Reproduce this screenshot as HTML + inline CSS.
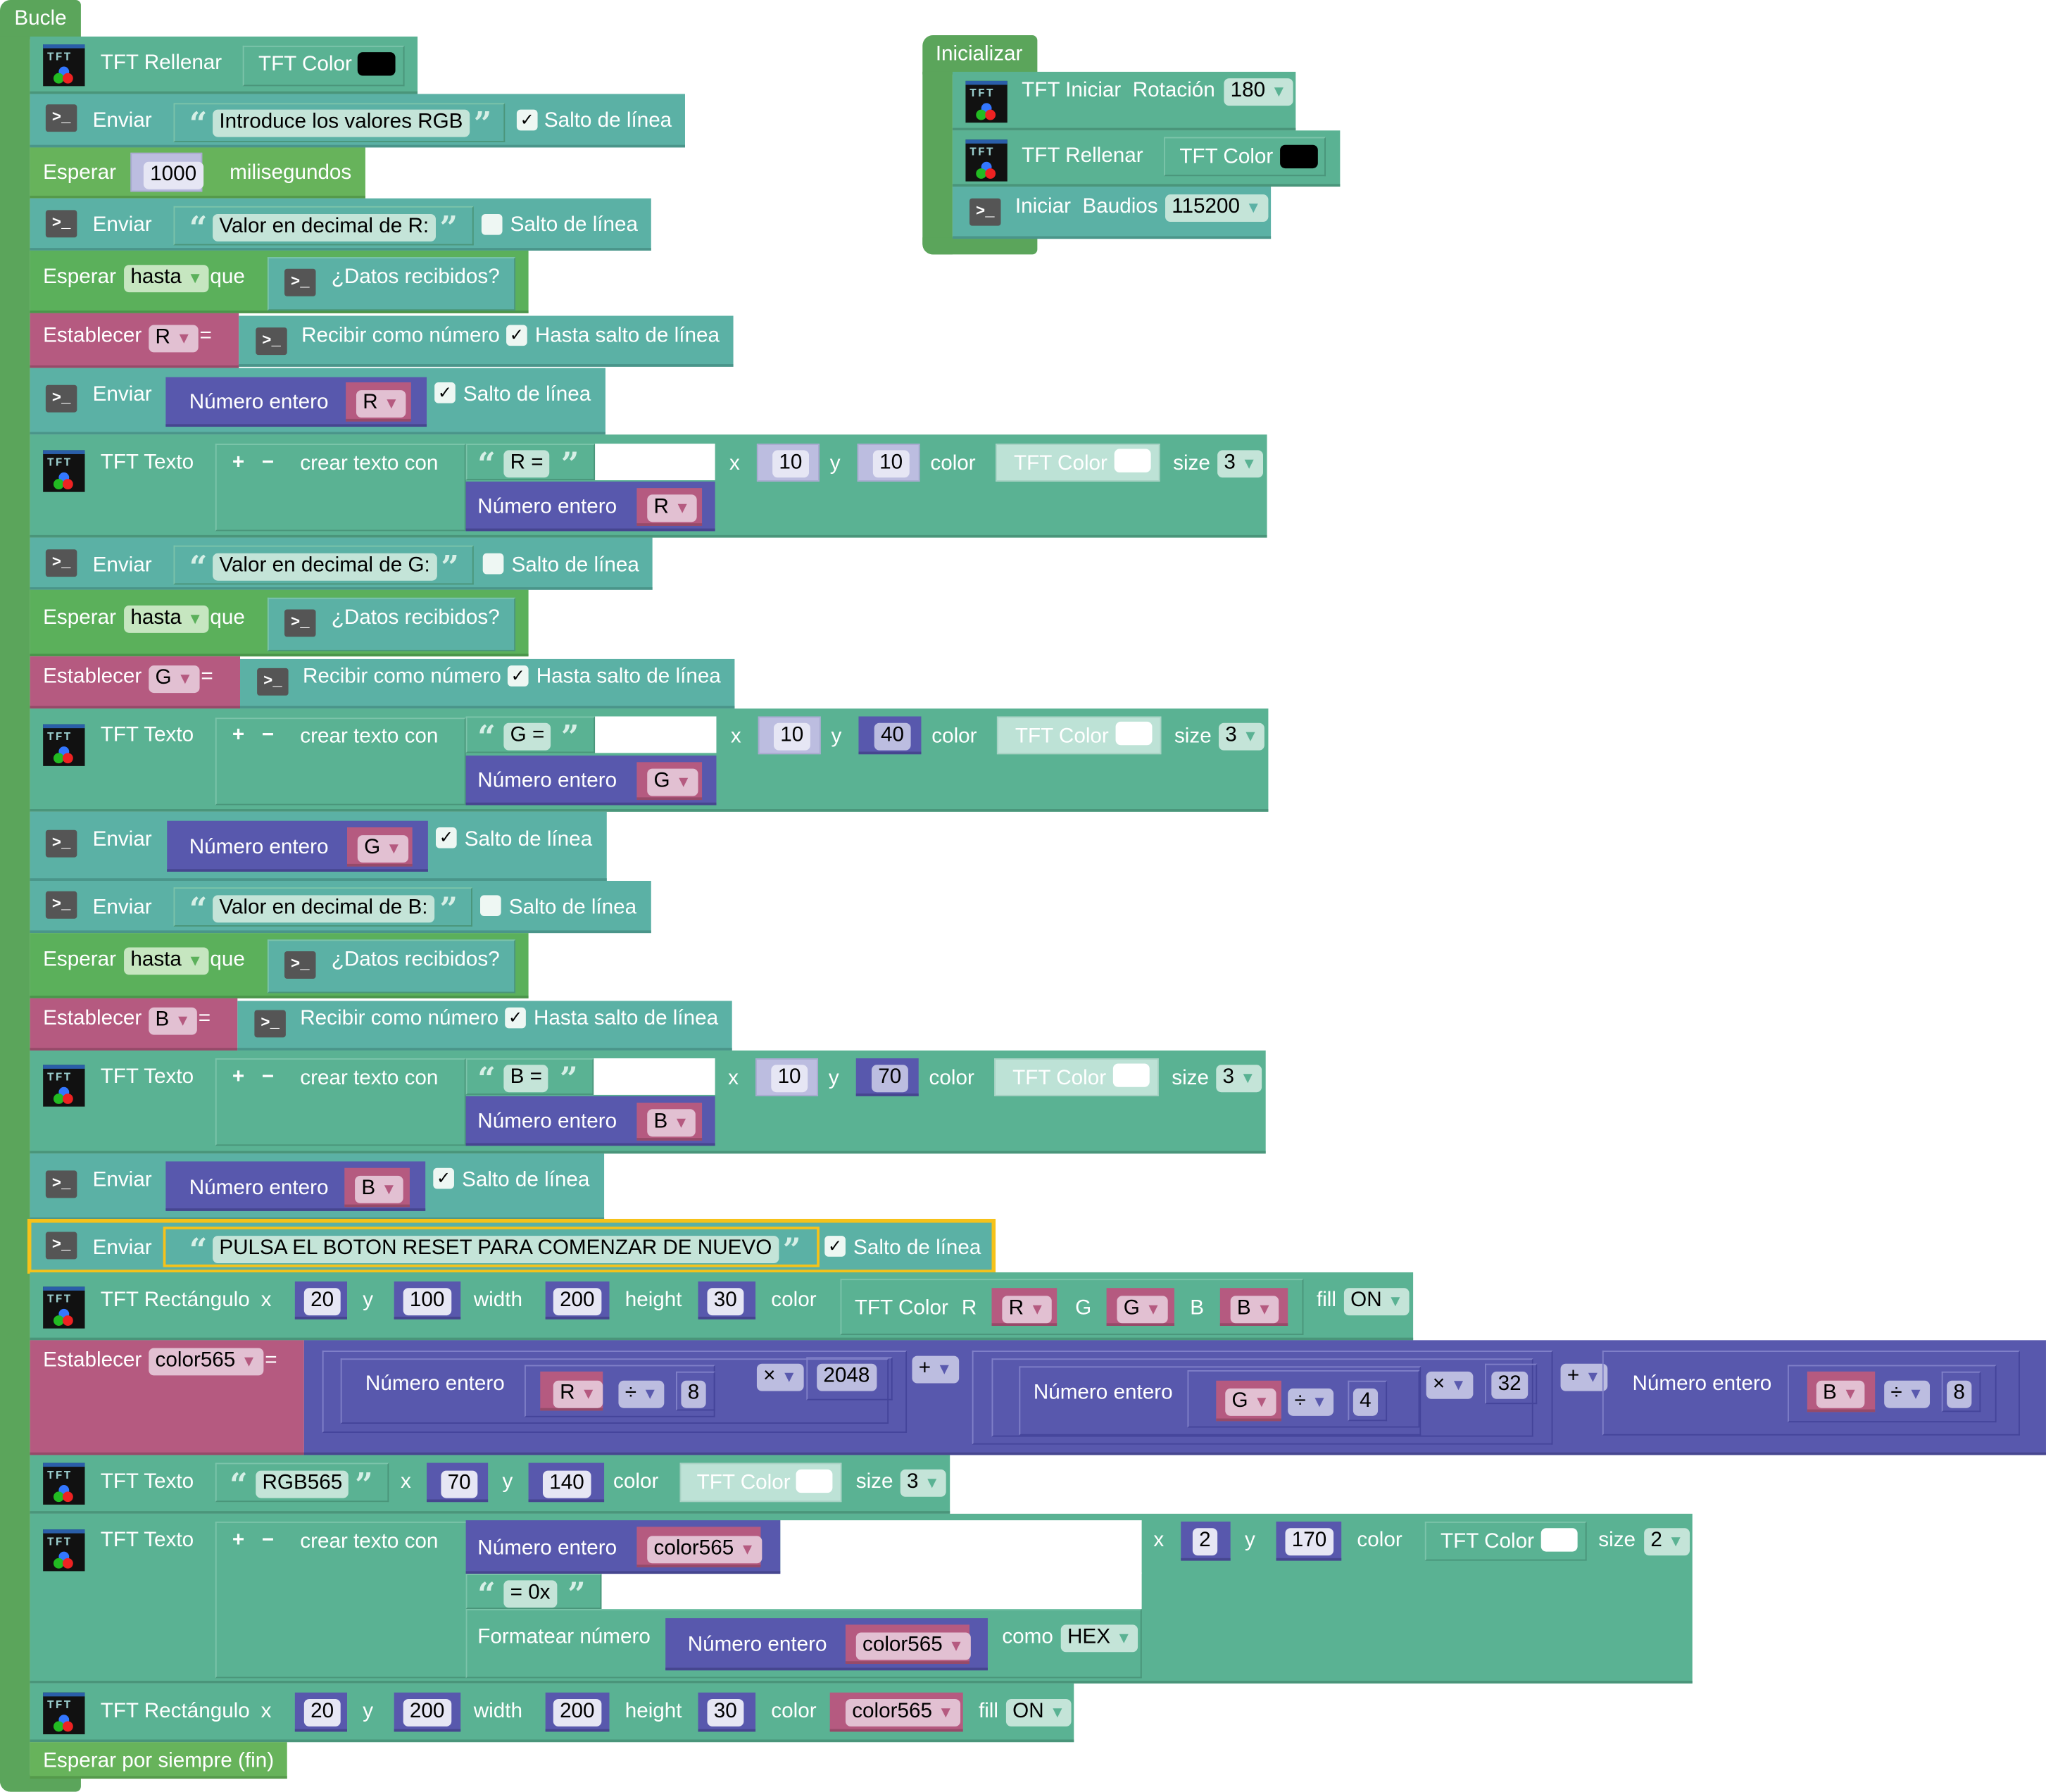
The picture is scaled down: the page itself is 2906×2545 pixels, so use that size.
<!DOCTYPE html>
<html><head><meta charset="utf-8"><style>
body{margin:0;background:#fff;width:2906px;height:2544px;overflow:hidden}
#w{position:absolute;left:0;top:0;width:1568px;height:1373px;transform:scale(1.8533);transform-origin:0 0;font-family:"Liberation Sans",sans-serif}
#w div{position:absolute;box-sizing:border-box}
.t{color:#fff;font-size:16px;line-height:20px;white-space:nowrap;margin-top:1px}
.f{color:#000;font-size:16px;line-height:20px;height:21px;padding:0 5px;border-radius:4px;white-space:nowrap;background:#c4e4d8;margin-top:1px}
.fg{background:#c6e6c0}.fp{background:#e2c0d2}.fl{background:#e6e6f4}
.f b{font-weight:normal;font-size:12px;color:#5a5aae}
.fp b{color:#b55a80}.fg b{color:#5bb05b}.fc b{color:#5ab293}
.T{background:#5ab293;border-bottom:2px solid #4a957a}
.S{background:#5bb1a5;border-bottom:2px solid #4a958a}
.G1{background:#67b35b;border-bottom:2px solid #559a4b}
.G2{background:#5bb05b;border-bottom:2px solid #4b954b}
.L{background:#5ba55b}
.P{background:#b55a80;border-bottom:2px solid #964a69}
.U{background:#5858ad;border-bottom:2px solid #46468f}
.LV{background:#bcbde0;border:1px solid #a9aad0}
.bo{border:1px solid #4a957a;border-top-color:#7cc4aa;border-left-color:#7cc4aa}
.bu{border:1px solid #44449a;border-top-color:#8080c8;border-left-color:#8080c8}
.lt{background:#bde2d6;border:1px solid #a8d2c4}
.q{color:#d6efe6;font-size:24px;font-weight:bold;line-height:24px;font-family:"DejaVu Serif",serif}
.cb{width:16px;height:16px;background:#eef7f3;border-radius:3px;color:#000;font-size:13px;line-height:16px;text-align:center}
.si{width:24px;height:21px;background:#555;border-radius:2px;color:#fff;font:bold 12px/21px "Liberation Mono",monospace;text-align:center}
.ti{width:32px;height:32px;background:#111;border-top:3px solid #2a5ea8}
.ti span{position:absolute;left:3px;top:2px;color:#9cc;font:bold 9px/10px "Liberation Mono",monospace;letter-spacing:1px}
.ti i{position:absolute;width:8px;height:8px;border-radius:50%}
.sw{width:29px;height:18px;border-radius:4px}
.wh{background:#fff}
</style></head><body><div id="w">

<!-- Loop -->
<div class="L" style="left:0;top:0;width:62px;height:30px;border-radius:8px 4px 0 0"></div>
<div class="t" style="left:11px;top:4px">Bucle</div>
<div class="L" style="left:0;top:28px;width:23px;height:1345px;border-radius:0 0 0 8px"></div>
<div class="L" style="left:0;top:1360px;width:62px;height:13px;border-radius:0 0 4px 8px"></div>

<!-- Row1 -->
<div class="T" style="left:23px;top:28px;width:297px;height:44px"></div>
<div class="ti" style="left:33px;top:34px"><span>TFT</span><i style="left:12px;top:14px;background:#37f"></i><i style="left:8px;top:19px;background:#2b2"></i><i style="left:15px;top:19px;background:#e22"></i></div>
<div class="t" style="left:77px;top:38px">TFT Rellenar</div>
<div class="T bo" style="left:186px;top:35px;width:124px;height:31px"></div>
<div class="t" style="left:198px;top:39px">TFT Color</div>
<div class="sw" style="left:274px;top:40px;background:#000"></div>

<!-- Row2 -->
<div class="S" style="left:23px;top:72px;width:502px;height:41px"></div>
<div class="si" style="left:35px;top:80px">&gt;_</div>
<div class="t" style="left:71px;top:82px">Enviar</div>
<div class="S bo" style="left:133px;top:79px;width:254px;height:30px"></div>
<div class="q" style="left:145px;top:83px">“</div>
<div class="f" style="left:163px;top:83px">Introduce los valores RGB</div>
<div class="q" style="left:363px;top:83px">”</div>
<div class="cb" style="left:396px;top:84px">✓</div>
<div class="t" style="left:417px;top:82px">Salto de línea</div>

<!-- Row3 -->
<div class="G1" style="left:23px;top:113px;width:257px;height:39px"></div>
<div class="t" style="left:33px;top:122px">Esperar</div>
<div class="LV" style="left:100px;top:117px;width:55px;height:30px"></div>
<div class="f fl" style="left:110px;top:123px">1000</div>
<div class="t" style="left:176px;top:122px">milisegundos</div>

<!-- Row4 -->
<div class="S" style="left:23px;top:152px;width:476px;height:40px"></div>
<div class="si" style="left:35px;top:161px">&gt;_</div>
<div class="t" style="left:71px;top:162px">Enviar</div>
<div class="S bo" style="left:133px;top:158px;width:230px;height:30px"></div>
<div class="q" style="left:145px;top:163px">“</div>
<div class="f" style="left:163px;top:163px">Valor en decimal de R:</div>
<div class="q" style="left:337px;top:163px">”</div>
<div class="cb" style="left:369px;top:164px"></div>
<div class="t" style="left:391px;top:162px">Salto de línea</div>

<!-- Row5 -->
<div class="G2" style="left:23px;top:192px;width:382px;height:48px"></div>
<div class="t" style="left:33px;top:202px">Esperar</div>
<div class="f fg" style="left:95px;top:202px">hasta <b>▼</b></div>
<div class="t" style="left:161px;top:202px">que</div>
<div class="S bo" style="left:205px;top:197px;width:190px;height:41px"></div>
<div class="si" style="left:218px;top:206px">&gt;_</div>
<div class="t" style="left:254px;top:202px">¿Datos recibidos?</div>

<!-- Row6 -->
<div class="P" style="left:23px;top:240px;width:160px;height:42px"></div>
<div class="t" style="left:33px;top:247px">Establecer</div>
<div class="f fp" style="left:114px;top:248px">R <b>▼</b></div>
<div class="t" style="left:153px;top:247px">=</div>
<div class="S" style="left:183px;top:242px;width:379px;height:39px"></div>
<div class="si" style="left:196px;top:251px">&gt;_</div>
<div class="t" style="left:231px;top:247px">Recibir como número</div>
<div class="cb" style="left:388px;top:249px">✓</div>
<div class="t" style="left:410px;top:247px">Hasta salto de línea</div>

<!-- Row7 -->
<div class="S" style="left:23px;top:282px;width:441px;height:51px"></div>
<div class="si" style="left:35px;top:295px">&gt;_</div>
<div class="t" style="left:71px;top:292px">Enviar</div>
<div class="U" style="left:127px;top:289px;width:200px;height:38px"></div>
<div class="t" style="left:145px;top:298px">Número entero</div>
<div class="P" style="left:265px;top:293px;width:50px;height:30px"></div>
<div class="f fp" style="left:273px;top:298px">R <b>▼</b></div>
<div class="cb" style="left:333px;top:293px">✓</div>
<div class="t" style="left:355px;top:292px">Salto de línea</div>

<!-- Row8 TFT Texto R -->
<div class="T" style="left:23px;top:333px;width:948px;height:79px"></div>
<div class="ti" style="left:33px;top:345px"><span>TFT</span><i style="left:12px;top:14px;background:#37f"></i><i style="left:8px;top:19px;background:#2b2"></i><i style="left:15px;top:19px;background:#e22"></i></div>
<div class="t" style="left:77px;top:344px">TFT Texto</div>
<div class="T bo" style="left:165px;top:340px;width:192px;height:67px"></div>
<div class="t" style="left:178px;top:344px;font-weight:bold">+ &nbsp; −</div>
<div class="t" style="left:230px;top:345px">crear texto con</div>
<div class="T bo" style="left:357px;top:340px;width:99px;height:28px"></div>
<div class="q" style="left:366px;top:344px">“</div>
<div class="f" style="left:386px;top:344px">R =</div>
<div class="q" style="left:430px;top:344px">”</div>
<div class="wh" style="left:456px;top:340px;width:92px;height:28px"></div>
<div class="U" style="left:357px;top:369px;width:191px;height:38px"></div>
<div class="t" style="left:366px;top:378px">Número entero</div>
<div class="P" style="left:488px;top:374px;width:50px;height:29px"></div>
<div class="f fp" style="left:496px;top:378px">R <b>▼</b></div>
<div class="t" style="left:559px;top:345px">x</div>
<div class="LV" style="left:580px;top:340px;width:48px;height:29px"></div>
<div class="f fl" style="left:592px;top:344px">10</div>
<div class="t" style="left:636px;top:345px">y</div>
<div class="LV" style="left:657px;top:340px;width:48px;height:29px"></div>
<div class="f fl" style="left:669px;top:344px">10</div>
<div class="t" style="left:713px;top:345px">color</div>
<div class="lt" style="left:763px;top:340px;width:126px;height:29px"></div>
<div class="t" style="left:777px;top:345px">TFT Color</div>
<div class="sw wh" style="left:854px;top:344px;width:28px"></div>
<div class="t" style="left:899px;top:345px">size</div>
<div class="f fc" style="left:933px;top:344px">3 <b>▼</b></div>

<!-- Row9 -->
<div class="S" style="left:23px;top:412px;width:477px;height:40px"></div>
<div class="si" style="left:35px;top:421px">&gt;_</div>
<div class="t" style="left:71px;top:423px">Enviar</div>
<div class="S bo" style="left:133px;top:418px;width:230px;height:30px"></div>
<div class="q" style="left:145px;top:423px">“</div>
<div class="f" style="left:163px;top:423px">Valor en decimal de G:</div>
<div class="q" style="left:338px;top:423px">”</div>
<div class="cb" style="left:370px;top:424px"></div>
<div class="t" style="left:392px;top:423px">Salto de línea</div>

<!-- Row10 -->
<div class="G2" style="left:23px;top:452px;width:382px;height:51px"></div>
<div class="t" style="left:33px;top:463px">Esperar</div>
<div class="f fg" style="left:95px;top:463px">hasta <b>▼</b></div>
<div class="t" style="left:161px;top:463px">que</div>
<div class="S bo" style="left:205px;top:458px;width:190px;height:41px"></div>
<div class="si" style="left:218px;top:467px">&gt;_</div>
<div class="t" style="left:254px;top:463px">¿Datos recibidos?</div>

<!-- Row11 -->
<div class="P" style="left:23px;top:503px;width:161px;height:40px"></div>
<div class="t" style="left:33px;top:508px">Establecer</div>
<div class="f fp" style="left:114px;top:509px">G <b>▼</b></div>
<div class="t" style="left:154px;top:508px">=</div>
<div class="S" style="left:184px;top:505px;width:379px;height:38px"></div>
<div class="si" style="left:197px;top:512px">&gt;_</div>
<div class="t" style="left:232px;top:508px">Recibir como número</div>
<div class="cb" style="left:389px;top:510px">✓</div>
<div class="t" style="left:411px;top:508px">Hasta salto de línea</div>

<!-- Row12 TFT Texto G -->
<div class="T" style="left:23px;top:543px;width:949px;height:79px"></div>
<div class="ti" style="left:33px;top:555px"><span>TFT</span><i style="left:12px;top:14px;background:#37f"></i><i style="left:8px;top:19px;background:#2b2"></i><i style="left:15px;top:19px;background:#e22"></i></div>
<div class="t" style="left:77px;top:553px">TFT Texto</div>
<div class="T bo" style="left:165px;top:550px;width:192px;height:67px"></div>
<div class="t" style="left:178px;top:553px;font-weight:bold">+ &nbsp; −</div>
<div class="t" style="left:230px;top:554px">crear texto con</div>
<div class="T bo" style="left:357px;top:549px;width:99px;height:28px"></div>
<div class="q" style="left:366px;top:553px">“</div>
<div class="f" style="left:386px;top:553px">G =</div>
<div class="q" style="left:430px;top:553px">”</div>
<div class="wh" style="left:456px;top:549px;width:93px;height:28px"></div>
<div class="U" style="left:357px;top:579px;width:192px;height:38px"></div>
<div class="t" style="left:366px;top:588px">Número entero</div>
<div class="P" style="left:488px;top:584px;width:50px;height:29px"></div>
<div class="f fp" style="left:496px;top:588px">G <b>▼</b></div>
<div class="t" style="left:560px;top:554px">x</div>
<div class="LV" style="left:581px;top:549px;width:48px;height:29px"></div>
<div class="f fl" style="left:593px;top:553px">10</div>
<div class="t" style="left:637px;top:554px">y</div>
<div class="U" style="left:658px;top:549px;width:48px;height:29px"></div>
<div class="f fl" style="left:670px;top:553px;background:#bcbde0">40</div>
<div class="t" style="left:714px;top:554px">color</div>
<div class="lt" style="left:764px;top:549px;width:126px;height:29px"></div>
<div class="t" style="left:778px;top:554px">TFT Color</div>
<div class="sw wh" style="left:855px;top:553px;width:28px"></div>
<div class="t" style="left:900px;top:554px">size</div>
<div class="f fc" style="left:934px;top:553px">3 <b>▼</b></div>

<!-- Row13 -->
<div class="S" style="left:23px;top:622px;width:442px;height:53px"></div>
<div class="si" style="left:35px;top:636px">&gt;_</div>
<div class="t" style="left:71px;top:633px">Enviar</div>
<div class="U" style="left:128px;top:629px;width:200px;height:39px"></div>
<div class="t" style="left:145px;top:639px">Número entero</div>
<div class="P" style="left:266px;top:634px;width:50px;height:30px"></div>
<div class="f fp" style="left:274px;top:639px">G <b>▼</b></div>
<div class="cb" style="left:334px;top:634px">✓</div>
<div class="t" style="left:356px;top:633px">Salto de línea</div>

<!-- Row14 -->
<div class="S" style="left:23px;top:675px;width:476px;height:40px"></div>
<div class="si" style="left:35px;top:683px">&gt;_</div>
<div class="t" style="left:71px;top:685px">Enviar</div>
<div class="S bo" style="left:133px;top:680px;width:229px;height:30px"></div>
<div class="q" style="left:145px;top:685px">“</div>
<div class="f" style="left:163px;top:685px">Valor en decimal de B:</div>
<div class="q" style="left:337px;top:685px">”</div>
<div class="cb" style="left:368px;top:686px"></div>
<div class="t" style="left:390px;top:685px">Salto de línea</div>

<!-- Row15 -->
<div class="G2" style="left:23px;top:715px;width:382px;height:50px"></div>
<div class="t" style="left:33px;top:725px">Esperar</div>
<div class="f fg" style="left:95px;top:725px">hasta <b>▼</b></div>
<div class="t" style="left:161px;top:725px">que</div>
<div class="S bo" style="left:205px;top:720px;width:190px;height:41px"></div>
<div class="si" style="left:218px;top:729px">&gt;_</div>
<div class="t" style="left:254px;top:725px">¿Datos recibidos?</div>

<!-- Row16 -->
<div class="P" style="left:23px;top:765px;width:159px;height:40px"></div>
<div class="t" style="left:33px;top:770px">Establecer</div>
<div class="f fp" style="left:114px;top:771px">B <b>▼</b></div>
<div class="t" style="left:152px;top:770px">=</div>
<div class="S" style="left:182px;top:767px;width:379px;height:38px"></div>
<div class="si" style="left:195px;top:774px">&gt;_</div>
<div class="t" style="left:230px;top:770px">Recibir como número</div>
<div class="cb" style="left:387px;top:772px">✓</div>
<div class="t" style="left:409px;top:770px">Hasta salto de línea</div>

<!-- Row17 TFT Texto B -->
<div class="T" style="left:23px;top:805px;width:947px;height:79px"></div>
<div class="ti" style="left:33px;top:816px"><span>TFT</span><i style="left:12px;top:14px;background:#37f"></i><i style="left:8px;top:19px;background:#2b2"></i><i style="left:15px;top:19px;background:#e22"></i></div>
<div class="t" style="left:77px;top:815px">TFT Texto</div>
<div class="T bo" style="left:165px;top:811px;width:192px;height:67px"></div>
<div class="t" style="left:178px;top:815px;font-weight:bold">+ &nbsp; −</div>
<div class="t" style="left:230px;top:816px">crear texto con</div>
<div class="T bo" style="left:357px;top:811px;width:98px;height:28px"></div>
<div class="q" style="left:366px;top:815px">“</div>
<div class="f" style="left:386px;top:815px">B =</div>
<div class="q" style="left:429px;top:815px">”</div>
<div class="wh" style="left:455px;top:811px;width:93px;height:28px"></div>
<div class="U" style="left:357px;top:840px;width:191px;height:38px"></div>
<div class="t" style="left:366px;top:849px">Número entero</div>
<div class="P" style="left:488px;top:845px;width:50px;height:29px"></div>
<div class="f fp" style="left:496px;top:849px">B <b>▼</b></div>
<div class="t" style="left:558px;top:816px">x</div>
<div class="LV" style="left:579px;top:811px;width:48px;height:29px"></div>
<div class="f fl" style="left:591px;top:815px">10</div>
<div class="t" style="left:635px;top:816px">y</div>
<div class="U" style="left:656px;top:811px;width:48px;height:29px"></div>
<div class="f fl" style="left:668px;top:815px;background:#bcbde0">70</div>
<div class="t" style="left:712px;top:816px">color</div>
<div class="lt" style="left:762px;top:811px;width:126px;height:29px"></div>
<div class="t" style="left:776px;top:816px">TFT Color</div>
<div class="sw wh" style="left:853px;top:815px;width:28px"></div>
<div class="t" style="left:898px;top:816px">size</div>
<div class="f fc" style="left:932px;top:815px">3 <b>▼</b></div>

<!-- Row18 -->
<div class="S" style="left:23px;top:884px;width:440px;height:51px"></div>
<div class="si" style="left:35px;top:897px">&gt;_</div>
<div class="t" style="left:71px;top:894px">Enviar</div>
<div class="U" style="left:127px;top:890px;width:199px;height:38px"></div>
<div class="t" style="left:145px;top:900px">Número entero</div>
<div class="P" style="left:264px;top:895px;width:50px;height:30px"></div>
<div class="f fp" style="left:272px;top:900px">B <b>▼</b></div>
<div class="cb" style="left:332px;top:895px">✓</div>
<div class="t" style="left:354px;top:894px">Salto de línea</div>

<!-- Row19 highlighted -->
<div class="S" style="left:23px;top:935px;width:739px;height:40px"></div>
<div style="left:21px;top:934px;width:742px;height:42px;border:3px solid #f6c21a"></div>
<div class="si" style="left:35px;top:944px">&gt;_</div>
<div class="t" style="left:71px;top:946px">Enviar</div>
<div class="S" style="left:125px;top:940px;width:503px;height:31px;border:2px solid #f6c21a"></div>
<div class="q" style="left:145px;top:946px">“</div>
<div class="f" style="left:163px;top:946px">PULSA EL BOTON RESET PARA COMENZAR DE NUEVO</div>
<div class="q" style="left:600px;top:946px">”</div>
<div class="cb" style="left:632px;top:947px">✓</div>
<div class="t" style="left:654px;top:946px">Salto de línea</div>

<!-- Row20 TFT Rectangulo -->
<div class="T" style="left:23px;top:975px;width:1060px;height:52px"></div>
<div class="ti" style="left:33px;top:986px"><span>TFT</span><i style="left:12px;top:14px;background:#37f"></i><i style="left:8px;top:19px;background:#2b2"></i><i style="left:15px;top:19px;background:#e22"></i></div>
<div class="t" style="left:77px;top:986px">TFT Rectángulo</div>
<div class="t" style="left:200px;top:986px">x</div>
<div class="U" style="left:226px;top:982px;width:40px;height:29px"></div>
<div class="f fl" style="left:233px;top:986px">20</div>
<div class="t" style="left:278px;top:986px">y</div>
<div class="U" style="left:302px;top:982px;width:51px;height:29px"></div>
<div class="f fl" style="left:309px;top:986px">100</div>
<div class="t" style="left:363px;top:986px">width</div>
<div class="U" style="left:418px;top:982px;width:49px;height:29px"></div>
<div class="f fl" style="left:424px;top:986px">200</div>
<div class="t" style="left:479px;top:986px">height</div>
<div class="U" style="left:535px;top:982px;width:44px;height:29px"></div>
<div class="f fl" style="left:542px;top:986px">30</div>
<div class="t" style="left:591px;top:986px">color</div>
<div class="T bo" style="left:644px;top:980px;width:355px;height:43px"></div>
<div class="t" style="left:655px;top:992px">TFT Color</div>
<div class="t" style="left:737px;top:992px">R</div>
<div class="P" style="left:760px;top:987px;width:50px;height:29px"></div>
<div class="f fp" style="left:768px;top:992px">R <b>▼</b></div>
<div class="t" style="left:824px;top:992px">G</div>
<div class="P" style="left:848px;top:987px;width:52px;height:29px"></div>
<div class="f fp" style="left:856px;top:992px">G <b>▼</b></div>
<div class="t" style="left:912px;top:992px">B</div>
<div class="P" style="left:935px;top:987px;width:52px;height:29px"></div>
<div class="f fp" style="left:943px;top:992px">B <b>▼</b></div>
<div class="t" style="left:1009px;top:986px">fill</div>
<div class="f fc" style="left:1030px;top:986px">ON <b>▼</b></div>

<!-- Row21 Establecer color565 -->
<div class="P" style="left:23px;top:1027px;width:210px;height:88px"></div>
<div class="t" style="left:33px;top:1032px">Establecer</div>
<div class="f fp" style="left:114px;top:1032px">color565 <b>▼</b></div>
<div class="t" style="left:203px;top:1032px">=</div>
<div class="U" style="left:233px;top:1027px;width:1335px;height:88px"></div>
<div class="bu" style="left:247px;top:1035px;width:448px;height:63px"></div>
<div class="bu" style="left:261px;top:1041px;width:420px;height:50px"></div>
<div class="t" style="left:280px;top:1050px">Número entero</div>
<div class="bu" style="left:402px;top:1046px;width:146px;height:40px"></div>
<div class="P" style="left:414px;top:1051px;width:48px;height:30px"></div>
<div class="f fp" style="left:424px;top:1057px">R <b>▼</b></div>
<div class="f fl" style="left:474px;top:1057px;background:#bcbde0">÷ <b>▼</b></div>
<div class="bu" style="left:518px;top:1051px;width:30px;height:30px"></div>
<div class="f fl" style="left:522px;top:1057px;background:#bcbde0">8</div>
<div class="f fl" style="left:580px;top:1044px;background:#bcbde0">× <b>▼</b></div>
<div class="bu" style="left:618px;top:1040px;width:66px;height:33px"></div>
<div class="f fl" style="left:626px;top:1044px;background:#bcbde0">2048</div>
<div class="f fl" style="left:699px;top:1038px;background:#bcbde0">+ <b>▼</b></div>
<div class="bu" style="left:745px;top:1035px;width:445px;height:72px"></div>
<div class="bu" style="left:760px;top:1041px;width:415px;height:60px"></div>
<div class="bu" style="left:781px;top:1047px;width:308px;height:53px"></div>
<div class="t" style="left:792px;top:1057px">Número entero</div>
<div class="bu" style="left:910px;top:1050px;width:178px;height:44px"></div>
<div class="P" style="left:932px;top:1058px;width:50px;height:31px"></div>
<div class="f fp" style="left:939px;top:1063px">G <b>▼</b></div>
<div class="f fl" style="left:987px;top:1063px;background:#bcbde0">÷ <b>▼</b></div>
<div class="bu" style="left:1033px;top:1058px;width:30px;height:31px"></div>
<div class="f fl" style="left:1037px;top:1063px;background:#bcbde0">4</div>
<div class="f fl" style="left:1093px;top:1050px;background:#bcbde0">× <b>▼</b></div>
<div class="bu" style="left:1138px;top:1045px;width:40px;height:31px"></div>
<div class="f fl" style="left:1143px;top:1050px;background:#bcbde0">32</div>
<div class="f fl" style="left:1196px;top:1044px;background:#bcbde0">+ <b>▼</b></div>
<div class="bu" style="left:1228px;top:1035px;width:320px;height:65px"></div>
<div class="t" style="left:1251px;top:1050px">Número entero</div>
<div class="bu" style="left:1370px;top:1046px;width:160px;height:44px"></div>
<div class="P" style="left:1385px;top:1051px;width:52px;height:31px"></div>
<div class="f fp" style="left:1392px;top:1057px">B <b>▼</b></div>
<div class="f fl" style="left:1444px;top:1057px;background:#bcbde0">÷ <b>▼</b></div>
<div class="bu" style="left:1488px;top:1051px;width:30px;height:31px"></div>
<div class="f fl" style="left:1492px;top:1057px;background:#bcbde0">8</div>

<!-- Row22 -->
<div class="T" style="left:23px;top:1115px;width:705px;height:45px"></div>
<div class="ti" style="left:33px;top:1121px"><span>TFT</span><i style="left:12px;top:14px;background:#37f"></i><i style="left:8px;top:19px;background:#2b2"></i><i style="left:15px;top:19px;background:#e22"></i></div>
<div class="t" style="left:77px;top:1125px">TFT Texto</div>
<div class="T bo" style="left:165px;top:1121px;width:133px;height:30px"></div>
<div class="q" style="left:176px;top:1126px">“</div>
<div class="f" style="left:196px;top:1126px">RGB565</div>
<div class="q" style="left:272px;top:1126px">”</div>
<div class="t" style="left:307px;top:1125px">x</div>
<div class="U" style="left:327px;top:1121px;width:47px;height:30px"></div>
<div class="f fl" style="left:338px;top:1126px">70</div>
<div class="t" style="left:385px;top:1125px">y</div>
<div class="U" style="left:405px;top:1121px;width:58px;height:30px"></div>
<div class="f fl" style="left:416px;top:1126px">140</div>
<div class="t" style="left:470px;top:1125px">color</div>
<div class="lt" style="left:521px;top:1121px;width:124px;height:30px"></div>
<div class="t" style="left:534px;top:1126px">TFT Color</div>
<div class="sw wh" style="left:610px;top:1126px;width:28px"></div>
<div class="t" style="left:656px;top:1125px">size</div>
<div class="f fc" style="left:690px;top:1125px">3 <b>▼</b></div>

<!-- Row23 -->
<div class="T" style="left:23px;top:1160px;width:1274px;height:130px"></div>
<div class="ti" style="left:33px;top:1172px"><span>TFT</span><i style="left:12px;top:14px;background:#37f"></i><i style="left:8px;top:19px;background:#2b2"></i><i style="left:15px;top:19px;background:#e22"></i></div>
<div class="t" style="left:77px;top:1170px">TFT Texto</div>
<div class="T bo" style="left:165px;top:1166px;width:710px;height:120px"></div>
<div class="t" style="left:178px;top:1170px;font-weight:bold">+ &nbsp; −</div>
<div class="t" style="left:230px;top:1171px">crear texto con</div>
<div class="wh" style="left:598px;top:1165px;width:277px;height:41px"></div>
<div class="wh" style="left:461px;top:1205px;width:414px;height:28px"></div>
<div class="U" style="left:357px;top:1165px;width:241px;height:41px"></div>
<div class="t" style="left:366px;top:1176px">Número entero</div>
<div class="P" style="left:488px;top:1170px;width:95px;height:31px"></div>
<div class="f fp" style="left:496px;top:1176px">color565 <b>▼</b></div>
<div class="T bo" style="left:357px;top:1206px;width:104px;height:27px"></div>
<div class="q" style="left:366px;top:1210px">“</div>
<div class="f" style="left:386px;top:1210px">= 0x</div>
<div class="q" style="left:435px;top:1210px">”</div>
<div class="T bo" style="left:357px;top:1233px;width:518px;height:53px"></div>
<div class="t" style="left:366px;top:1244px">Formatear número</div>
<div class="U" style="left:510px;top:1240px;width:247px;height:40px"></div>
<div class="t" style="left:527px;top:1250px">Número entero</div>
<div class="P" style="left:648px;top:1245px;width:95px;height:30px"></div>
<div class="f fp" style="left:656px;top:1250px">color565 <b>▼</b></div>
<div class="t" style="left:768px;top:1244px">como</div>
<div class="f fc" style="left:813px;top:1244px">HEX <b>▼</b></div>
<div class="t" style="left:884px;top:1170px">x</div>
<div class="U" style="left:905px;top:1166px;width:38px;height:30px"></div>
<div class="f fl" style="left:914px;top:1170px">2</div>
<div class="t" style="left:954px;top:1170px">y</div>
<div class="U" style="left:978px;top:1166px;width:50px;height:30px"></div>
<div class="f fl" style="left:985px;top:1170px">170</div>
<div class="t" style="left:1040px;top:1170px">color</div>
<div class="T bo" style="left:1092px;top:1166px;width:124px;height:30px"></div>
<div class="t" style="left:1104px;top:1171px">TFT Color</div>
<div class="sw wh" style="left:1181px;top:1171px;width:28px"></div>
<div class="t" style="left:1225px;top:1170px">size</div>
<div class="f fc" style="left:1260px;top:1170px">2 <b>▼</b></div>

<!-- Row24 -->
<div class="T" style="left:23px;top:1290px;width:800px;height:45px"></div>
<div class="ti" style="left:33px;top:1297px"><span>TFT</span><i style="left:12px;top:14px;background:#37f"></i><i style="left:8px;top:19px;background:#2b2"></i><i style="left:15px;top:19px;background:#e22"></i></div>
<div class="t" style="left:77px;top:1301px">TFT Rectángulo</div>
<div class="t" style="left:200px;top:1301px">x</div>
<div class="U" style="left:226px;top:1297px;width:40px;height:30px"></div>
<div class="f fl" style="left:233px;top:1301px">20</div>
<div class="t" style="left:278px;top:1301px">y</div>
<div class="U" style="left:302px;top:1297px;width:51px;height:30px"></div>
<div class="f fl" style="left:309px;top:1301px">200</div>
<div class="t" style="left:363px;top:1301px">width</div>
<div class="U" style="left:418px;top:1297px;width:49px;height:30px"></div>
<div class="f fl" style="left:424px;top:1301px">200</div>
<div class="t" style="left:479px;top:1301px">height</div>
<div class="U" style="left:535px;top:1297px;width:44px;height:30px"></div>
<div class="f fl" style="left:542px;top:1301px">30</div>
<div class="t" style="left:591px;top:1301px">color</div>
<div class="P" style="left:636px;top:1297px;width:102px;height:30px"></div>
<div class="f fp" style="left:648px;top:1301px">color565 <b>▼</b></div>
<div class="t" style="left:750px;top:1301px">fill</div>
<div class="f fc" style="left:771px;top:1301px">ON <b>▼</b></div>

<!-- Row25 -->
<div class="G1" style="left:23px;top:1335px;width:197px;height:28px"></div>
<div class="t" style="left:33px;top:1339px">Esperar por siempre (fin)</div>

<!-- Inicializar -->
<div class="L" style="left:707px;top:27px;width:88px;height:30px;border-radius:8px 4px 0 0"></div>
<div class="t" style="left:717px;top:31px">Inicializar</div>
<div class="L" style="left:707px;top:55px;width:23px;height:140px;border-radius:0 0 0 8px"></div>
<div class="L" style="left:707px;top:182px;width:88px;height:13px;border-radius:0 0 4px 8px"></div>
<div class="T" style="left:730px;top:55px;width:263px;height:45px"></div>
<div class="ti" style="left:740px;top:62px"><span>TFT</span><i style="left:12px;top:14px;background:#37f"></i><i style="left:8px;top:19px;background:#2b2"></i><i style="left:15px;top:19px;background:#e22"></i></div>
<div class="t" style="left:783px;top:59px">TFT Iniciar &nbsp;Rotación</div>
<div class="f fc" style="left:938px;top:59px">180 <b>▼</b></div>
<div class="T" style="left:730px;top:100px;width:297px;height:43px"></div>
<div class="ti" style="left:740px;top:107px"><span>TFT</span><i style="left:12px;top:14px;background:#37f"></i><i style="left:8px;top:19px;background:#2b2"></i><i style="left:15px;top:19px;background:#e22"></i></div>
<div class="t" style="left:783px;top:109px">TFT Rellenar</div>
<div class="T bo" style="left:892px;top:105px;width:124px;height:30px"></div>
<div class="t" style="left:904px;top:110px">TFT Color</div>
<div class="sw" style="left:981px;top:111px;background:#000"></div>
<div class="S" style="left:730px;top:143px;width:244px;height:40px"></div>
<div class="si" style="left:743px;top:152px">&gt;_</div>
<div class="t" style="left:778px;top:148px">Iniciar &nbsp;Baudios</div>
<div class="f" style="left:893px;top:148px">115200 <b style="color:#5bb1a5">▼</b></div>

</div></body></html>
